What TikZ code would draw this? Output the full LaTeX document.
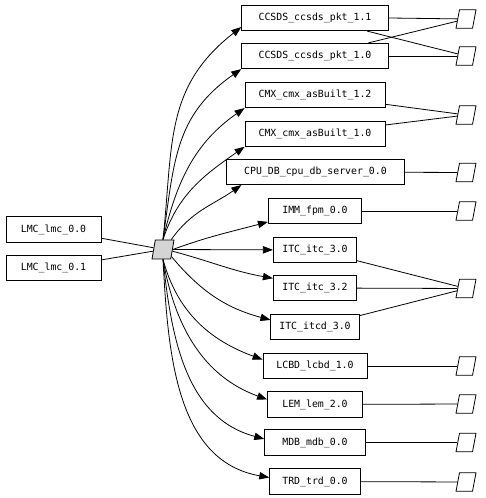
\documentclass[tikz,border=0pt]{standalone}
\usepackage{fontspec}
\setmonofont{DejaVu Sans Mono}
\usetikzlibrary{arrows.meta,shapes.geometric}

\begin{document}
\begin{tikzpicture}[x=0.75pt, y=0.75pt, line width=0.6pt,
  every node/.style={font=\ttfamily\fontsize{7.4}{9}\selectfont},
  box/.style={draw, minimum height=19pt, inner sep=0pt},
  hubshape/.style={draw, fill=black!17, trapezium, trapezium left angle=78, trapezium right angle=102,
    trapezium stretches=true, minimum width=16.5pt, minimum height=14.25pt, inner sep=1pt},
  port/.style={draw, trapezium, trapezium left angle=75, trapezium right angle=105,
    trapezium stretches=true, minimum width=15pt, minimum height=13.9pt, inner sep=1pt},
  arr/.style={-{Triangle[length=7.5pt, width=5.5pt]}}]
  \useasboundingbox (0,0) rectangle (485,498);

  % sources and hub
  \node[box, minimum width=71.25pt] (lmc0) at (53.5,268.5) {LMC\_lmc\_0.0};
  \node[box, minimum width=71.25pt] (lmc1) at (53.5,230) {LMC\_lmc\_0.1};
  \node[hubshape] (hub) at (163,248.5) {};

  % targets
  \node[box, minimum width=110pt] (c11) at (315,480) {CCSDS\_ccsds\_pkt\_1.1};
  \node[box, minimum width=110pt] (c10) at (315,442) {CCSDS\_ccsds\_pkt\_1.0};
  \node[box, minimum width=105pt] (cmx12) at (315,403) {CMX\_cmx\_asBuilt\_1.2};
  \node[box, minimum width=105pt] (cmx10) at (315,364.3) {CMX\_cmx\_asBuilt\_1.0};
  \node[box, minimum width=133.2pt] (cpu) at (315.5,326) {CPU\_DB\_cpu\_db\_server\_0.0};
  \node[box, minimum width=70pt] (imm) at (315,287) {IMM\_fpm\_0.0};
  \node[box, minimum width=62.5pt] (itc30) at (315,248) {ITC\_itc\_3.0};
  \node[box, minimum width=62.5pt] (itc32) at (315,210) {ITC\_itc\_3.2};
  \node[box, minimum width=66.2pt] (itcd) at (315,171) {ITC\_itcd\_3.0};
  \node[box, minimum width=78pt] (lcbd) at (315,132) {LCBD\_lcbd\_1.0};
  \node[box, minimum width=71.25pt] (lem) at (315,93.5) {LEM\_lem\_2.0};
  \node[box, minimum width=75.5pt] (mdb) at (315,55.5) {MDB\_mdb\_0.0};
  \node[box, minimum width=68pt] (trd) at (315,16.5) {TRD\_trd\_0.0};

  % ports
  \node[port] (p1) at (466,479) {};
  \node[port] (p2) at (466,442) {};
  \node[port] (p3) at (466,383) {};
  \node[port] (p4) at (466,325.5) {};
  \node[port] (p5) at (466,287) {};
  \node[port] (p6) at (466,209.5) {};
  \node[port] (p7) at (466,132) {};
  \node[port] (p8) at (466,94) {};
  \node[port] (p9) at (466,55.5) {};
  \node[port] (p10) at (466,16) {};

  \draw (lmc0) -- (hub);
  \draw (lmc1) -- (hub);

  \draw[arr] (hub.north) to[out=84, in=218, looseness=1.1] (c11.187);
  \draw[arr] (hub.north) to[out=82, in=215, looseness=1.1] (c10.south west);
  \draw[arr] (hub.north) to[out=77, in=215] (cmx12.south west);
  \draw[arr] (hub.north) to[out=72, in=215] (cmx10.south west);
  \draw[arr] (hub.50) to[out=55, in=215] (cpu.190);
  \draw[arr] (hub.east) to[out=20, in=195] (imm.193);
  \draw[arr] (hub) -- (itc30);
  \draw[arr] (hub.-10) to[out=-15, in=170] (itc32.167);
  \draw[arr] (hub.-40) to[out=-50, in=165] (itcd.171);
  \draw[arr] (hub.south) to[out=-75, in=160] (lcbd.173);
  \draw[arr] (hub.south) to[out=-80, in=160] (lem.174);
  \draw[arr] (hub.south) to[out=-84, in=165] (mdb.176);
  \draw[arr] (hub.south) to[out=-87, in=170] (trd.175);

  \draw (c11.east) -- (p1);
  \draw (c11) -- (p2);
  \draw (c10) -- (p1);
  \draw (c10.east) -- (p2);
  \draw (cmx12) -- (p3);
  \draw (cmx10) -- (p3);
  \draw (cpu) -- (p4);
  \draw (imm) -- (p5);
  \draw (itc30) -- (p6);
  \draw (itc32) -- (p6);
  \draw (itcd) -- (p6);
  \draw (lcbd) -- (p7);
  \draw (lem) -- (p8);
  \draw (mdb) -- (p9);
  \draw (trd) -- (p10);
\end{tikzpicture}
\end{document}
